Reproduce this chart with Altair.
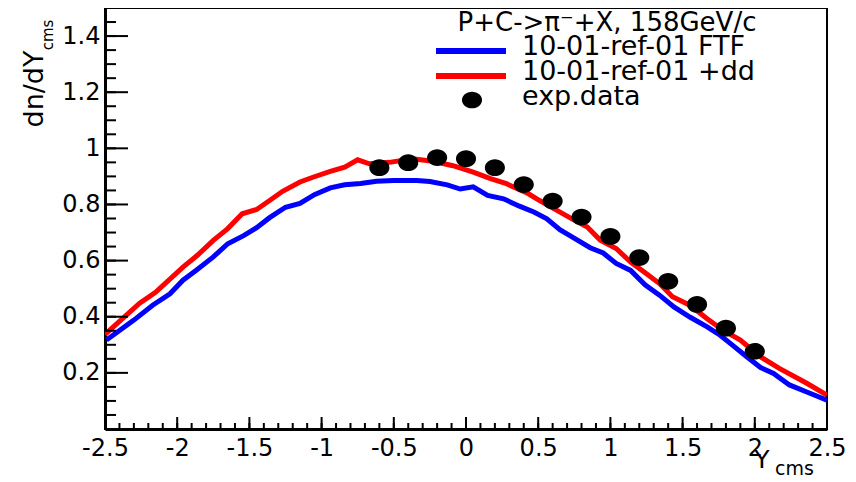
import altair as alt
import pandas as pd

# ---- data ----
ftf_x = [-2.49, -2.3, -2.17, -2.05, -1.96, -1.87, -1.75, -1.65, -1.54, -1.45, -1.36, -1.25,
         -1.15, -1.05, -0.94, -0.84, -0.73, -0.62, -0.5, -0.34, -0.25, -0.13, -0.04, 0.05,
         0.15, 0.26, 0.37, 0.47, 0.56, 0.65, 0.74, 0.86, 0.95, 1.04, 1.14, 1.24, 1.34, 1.44,
         1.55, 1.67, 1.76, 1.83, 1.94, 2.04, 2.13, 2.24, 2.36, 2.5]
ftf_y = [0.317, 0.388, 0.441, 0.482, 0.530, 0.565, 0.613, 0.660, 0.689, 0.717, 0.753, 0.790,
         0.804, 0.835, 0.859, 0.870, 0.875, 0.883, 0.885, 0.885, 0.882, 0.870, 0.855, 0.863,
         0.832, 0.820, 0.794, 0.773, 0.749, 0.710, 0.683, 0.646, 0.627, 0.590, 0.565, 0.514,
         0.477, 0.435, 0.399, 0.364, 0.334, 0.305, 0.259, 0.219, 0.198, 0.157, 0.132, 0.103]

dd_x = [-2.5, -2.26, -2.15, -1.96, -1.86, -1.75, -1.65, -1.55, -1.45, -1.36, -1.27, -1.15,
        -1.06, -0.94, -0.84, -0.75, -0.67, -0.53, -0.37, -0.23, -0.09, 0.05, 0.17, 0.28,
        0.43, 0.51, 0.63, 0.74, 0.84, 0.93, 1.04, 1.14, 1.25, 1.34, 1.43, 1.55, 1.67, 1.78,
        1.9, 2.04, 2.17, 2.36, 2.5]
dd_y = [0.337, 0.448, 0.487, 0.577, 0.619, 0.672, 0.714, 0.767, 0.782, 0.814, 0.847, 0.880,
        0.897, 0.918, 0.933, 0.959, 0.945, 0.950, 0.963, 0.954, 0.938, 0.915, 0.892, 0.874,
        0.839, 0.814, 0.779, 0.747, 0.720, 0.673, 0.643, 0.595, 0.553, 0.518, 0.471, 0.441,
        0.393, 0.352, 0.317, 0.257, 0.216, 0.163, 0.121]

exp_x = [-0.6, -0.4, -0.2, 0.0, 0.2, 0.4, 0.6, 0.8, 1.0, 1.2, 1.4, 1.6, 1.8, 2.0]
exp_y = [0.931, 0.949, 0.967, 0.963, 0.931, 0.871, 0.812, 0.755, 0.686, 0.611, 0.526,
         0.444, 0.359, 0.277]

x_labels = [-2.5, -2.0, -1.5, -1.0, -0.5, 0.0, 0.5, 1.0, 1.5, 2.0, 2.5]
y_labels = [0.2, 0.4, 0.6, 0.8, 1.0, 1.2, 1.4]
x_minor = [round(-2.5 + i * 0.1, 2) for i in range(51)]
y_minor = [round(i * 0.05, 2) for i in range(31)]

legend_title = "P+C->π⁻+X, 158GeV/c"
legend_ftf = "10-01-ref-01 FTF"
legend_dd = "10-01-ref-01 +dd"
legend_exp = "exp.data"

# ---- layout ----
W, H = 722, 421
FONT = "DejaVu Sans"
XMIN, XMAX, YMIN, YMAX = -2.5, 2.5, 0.0, 1.5
px_x = W / (XMAX - XMIN)
px_y = H / (YMAX - YMIN)

xs = alt.Scale(domain=[XMIN, XMAX], nice=False, zero=False, padding=0)
ys = alt.Scale(domain=[YMIN, YMAX], nice=False, zero=False, padding=0)

xax = alt.Axis(values=x_labels, title=None, grid=False, ticks=False, tickSize=0,
               labelExpr="replace(format(datum.value, '~g'), '\u2212', '-')",
               labelFont=FONT, labelFontSize=24, labelColor="black", labelPadding=7,
               labelFlush=False, labelOverlap=False, domainColor="black", domainWidth=3)
yax = alt.Axis(values=y_labels, title=None, grid=False, ticks=False, tickSize=0,
               labelExpr="format(datum.value, '~g')",
               labelFont=FONT, labelFontSize=24, labelColor="black", labelPadding=5,
               labelOverlap=False, domainColor="black", domainWidth=3)

X = alt.X("x:Q", scale=xs, axis=xax)
Y = alt.Y("y:Q", scale=ys, axis=yax)

one = pd.DataFrame({"k": [0]})

# inward ticks as thin bars in data units (lengths given in pixels)
yt = pd.DataFrame({"y": y_minor + y_labels,
                   "x": [XMIN] * (len(y_minor) + len(y_labels)),
                   "xe": [XMIN + 11 / px_x] * len(y_minor) + [XMIN + 23 / px_x] * len(y_labels)})
xt = pd.DataFrame({"x": x_minor + x_labels,
                   "y": [YMIN] * (len(x_minor) + len(x_labels)),
                   "ye": [YMIN + 6 / px_y] * len(x_minor) + [YMIN + 12 / px_y] * len(x_labels)})
yticks = alt.Chart(yt).mark_bar(color="#000000", size=2, opacity=1, orient="horizontal").encode(
    y=Y, x=X, x2="xe:Q")
xticks = alt.Chart(xt).mark_bar(color="#000000", size=2, opacity=1, orient="vertical").encode(
    x=X, y=Y, y2="ye:Q")

ftf = alt.Chart(pd.DataFrame({"x": ftf_x, "y": ftf_y})).mark_line(
    color="#0000ff", strokeWidth=5, clip=True).encode(x=X, y=Y)
dd = alt.Chart(pd.DataFrame({"x": dd_x, "y": dd_y})).mark_line(
    color="#ff0000", strokeWidth=5, clip=True).encode(x=X, y=Y)

ellipse = "M -1.2 0 A 1.2 1 0 1 0 1.2 0 A 1.2 1 0 1 0 -1.2 0 Z"
dots = alt.Chart(pd.DataFrame({"x": exp_x, "y": exp_y})).mark_point(
    shape=ellipse, filled=True, color="black", opacity=1, size=280).encode(x=X, y=Y)


def txt(s, x, y, size, align="left", angle=0):
    kw = dict(font=FONT, fontSize=size, align=align, baseline="alphabetic", color="black")
    if angle:
        kw["angle"] = angle
    return alt.Chart(one).mark_text(**kw).encode(
        x=alt.value(x), y=alt.value(y), text=alt.value(s))


ytitle = txt("dn/dY", -62, 81, 27, align="center", angle=270)
ysub = txt("cms", -52, 27, 15, align="center", angle=270)
xtitle = txt("Y", 657, 460, 25, align="center")
xsub = txt("cms", 670, 467, 19)

lg_title = txt(legend_title, 502, 23, 26, align="center")
lg_ftf = txt(legend_ftf, 417, 47, 27)
lg_dd = txt(legend_dd, 417, 72, 27)
lg_exp = txt(legend_exp, 417, 97, 27)

lg_line_b = alt.Chart(one).mark_rule(color="#0000ff", strokeWidth=6).encode(
    x=alt.value(331), x2=alt.value(401), y=alt.value(43))
lg_line_r = alt.Chart(one).mark_rule(color="#ff0000", strokeWidth=6).encode(
    x=alt.value(331), x2=alt.value(401), y=alt.value(68))
lg_dot = alt.Chart(one).mark_point(shape=ellipse, filled=True, color="black", opacity=1,
                                   size=280).encode(x=alt.value(367), y=alt.value(92))

chart = alt.layer(
    lg_title, ftf, dd, dots,
    ytitle, ysub, xtitle, xsub,
    lg_ftf, lg_dd, lg_exp, lg_line_b, lg_line_r, lg_dot,
    yticks, xticks,
).properties(
    width=W, height=H,
    autosize=alt.AutoSizeParams(type="none"),
    padding={"left": 97, "top": 0, "right": 21, "bottom": 53},
    background="white",
).configure_view(stroke="black", strokeWidth=2)

chart.save("out.html", embed_options={"renderer": "svg", "actions": False})
